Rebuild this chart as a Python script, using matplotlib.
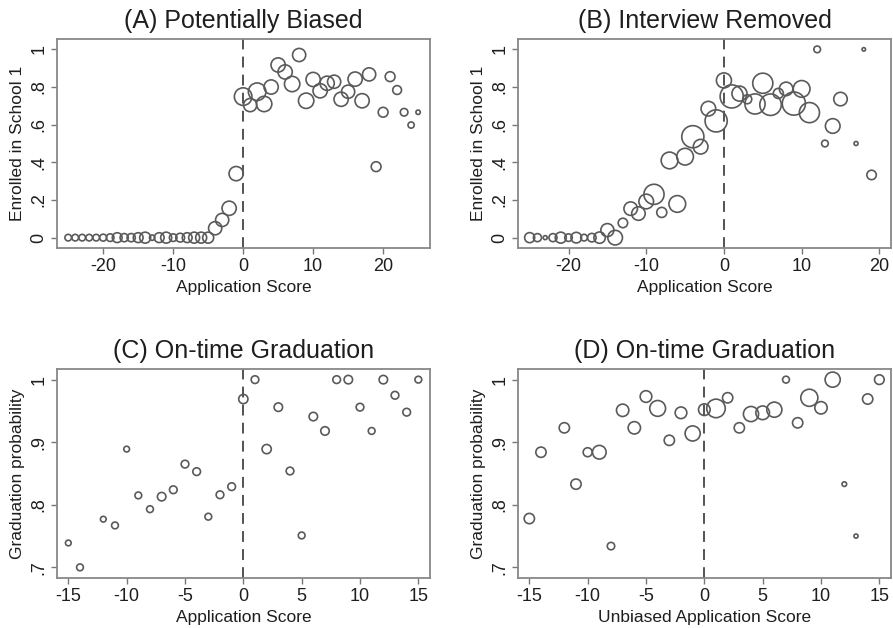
import matplotlib
matplotlib.use("Agg")
import matplotlib.pyplot as plt

plt.rcParams['font.family'] = ['Liberation Sans', 'DejaVu Sans']
plt.rcParams['axes.unicode_minus'] = False

# panel A: potentially biased score
a_x = list(range(-25, 26))
a_y = [0] * 21 + [0.05, 0.094, 0.156, 0.34,
                  0.749, 0.704, 0.775, 0.71, 0.80, 0.917, 0.88, 0.816, 0.97, 0.727,
                  0.84, 0.78, 0.82, 0.828, 0.735, 0.775, 0.842, 0.727, 0.867, 0.377,
                  0.666, 0.855, 0.784, 0.666, 0.598, 0.666]
a_n = [9, 9, 9, 9, 9, 10, 12, 20, 14, 14, 20, 25, 6, 20, 25, 12, 16, 20, 25, 25,
       25, 36, 36, 42, 42, 64, 36, 64, 49, 42, 42, 42, 49, 36, 49, 42, 42, 42, 36,
       42, 36, 42, 42, 36, 20, 20, 20, 16, 12, 8, 4]

# panel B: interview removed
b_x = list(range(-25, 16)) + [17, 18, 19]
b_y = [0] * 10 + [0.04, 0, 0.078, 0.154, 0.128, 0.192, 0.23, 0.134, 0.41, 0.179,
                  0.43, 0.536, 0.483, 0.685, 0.62, 0.835, 0.75, 0.765, 0.735, 0.71,
                  0.82, 0.706, 0.766, 0.79, 0.712, 0.79, 0.664, 1.0, 0.5, 0.593,
                  0.736, 0.5, 1.0, 0.333]
b_n = [25, 16, 4, 16, 30, 14, 28, 11, 18, 32, 42, 53, 22, 45, 45, 53, 100, 25, 69,
       69, 69, 121, 53, 53, 121, 56, 132, 56, 20, 100, 100, 114, 25, 45, 132, 69,
       100, 11, 11, 53, 45, 4, 3, 22]

# panel C: on-time graduation, application score
c_x = [-15, -14] + list(range(-12, 16))
c_y = [0.739, 0.70, 0.777, 0.767, 0.889, 0.815, 0.793, 0.813, 0.824, 0.865, 0.853,
       0.781, 0.816, 0.829, 0.969, 1.0, 0.889, 0.956, 0.854, 0.751, 0.941, 0.918,
       1.0, 1.0, 0.956, 0.918, 1.0, 0.975, 0.948, 1.0]
c_n = [5, 7, 5, 7, 5, 7, 7, 11, 9, 9, 9, 7, 9, 9, 13, 9, 13, 11, 9, 7, 11, 11, 9,
       11, 9, 7, 11, 9, 9, 7]

# panel D: on-time graduation, unbiased score
d_x = [-15, -14] + list(range(-12, 16))
d_y = [0.778, 0.884, 0.923, 0.833, 0.884, 0.884, 0.734, 0.951, 0.923, 0.973, 0.954,
       0.903, 0.947, 0.914, 0.952, 0.954, 0.971, 0.923, 0.945, 0.947, 0.952, 1.0,
       0.931, 0.971, 0.955, 1.0, 0.833, 0.75, 0.969, 1.0]
d_n = [25, 25, 25, 25, 19, 44, 13, 36, 36, 32, 59, 25, 32, 54, 32, 81, 25, 25, 54,
       44, 54, 11, 25, 69, 36, 54, 5, 4, 25, 22]

W, H = 893, 628
fig = plt.figure(figsize=(W / 100, H / 100), dpi=100)
fig.patch.set_facecolor('white')

panels = [
    ((57, 39, 430, 248), a_x, a_y, a_n, 2.5, "(A) Potentially Biased", "Application Score",
     "Enrolled in School 1", (-26.6, 26.7), (-0.055, 1.055), [-20, -10, 0, 10, 20],
     [0, 0.2, 0.4, 0.6, 0.8, 1], ["0", ".2", ".4", ".6", ".8", "1"]),
    ((518, 39, 891, 248), b_x, b_y, b_n, 2.1, "(B) Interview Removed", "Application Score",
     "Enrolled in School 1", (-26.5, 21.5), (-0.055, 1.055), [-20, -10, 0, 10, 20],
     [0, 0.2, 0.4, 0.6, 0.8, 1], ["0", ".2", ".4", ".6", ".8", "1"]),
    ((57, 369, 430, 578), c_x, c_y, c_n, 3.4, "(C) On-time Graduation", "Application Score",
     "Graduation probability", (-15.97, 16.0), (0.683, 1.017), [-15, -10, -5, 0, 5, 10, 15],
     [0.7, 0.8, 0.9, 1], [".7", ".8", ".9", "1"]),
    ((518, 369, 891, 578), d_x, d_y, d_n, 2.2, "(D) On-time Graduation",
     "Unbiased Application Score", "Graduation probability", (-15.97, 16.0),
     (0.683, 1.017), [-15, -10, -5, 0, 5, 10, 15],
     [0.7, 0.8, 0.9, 1], [".7", ".8", ".9", "1"]),
]

txt = '#1e1e1e'
for (l, t, r, b), x, y, n, k, title, xlab, ylab, xlim, ylim, xt, yt, ytl in panels:
    ax = fig.add_axes([l / W, 1 - b / H, (r - l) / W, (b - t) / H])
    ax.scatter(x, y, s=[v * k for v in n], facecolors='none',
               edgecolors='#5a5a5a', linewidths=1.2, zorder=3)
    ax.axvline(0, color='#444444', lw=1.3, ls=(0, (6, 4)), zorder=2)
    ax.set_xlim(*xlim)
    ax.set_ylim(*ylim)
    ax.set_xticks(xt)
    ax.set_yticks(yt)
    ax.set_yticklabels(ytl, rotation=90, va='center')
    ax.set_title(title, fontsize=18, color=txt, pad=8)
    ax.set_xlabel(xlab, fontsize=12.5, color=txt, labelpad=4)
    ax.set_ylabel(ylab, fontsize=12.5, color=txt, labelpad=4)
    ax.tick_params(direction='out', length=4, width=1, color='#777777',
                   labelsize=13, labelcolor=txt, pad=3)
    for sp in ax.spines.values():
        sp.set_color('#888888')
        sp.set_linewidth(1.3)

fig.savefig("out.png", dpi=100, facecolor='white')
